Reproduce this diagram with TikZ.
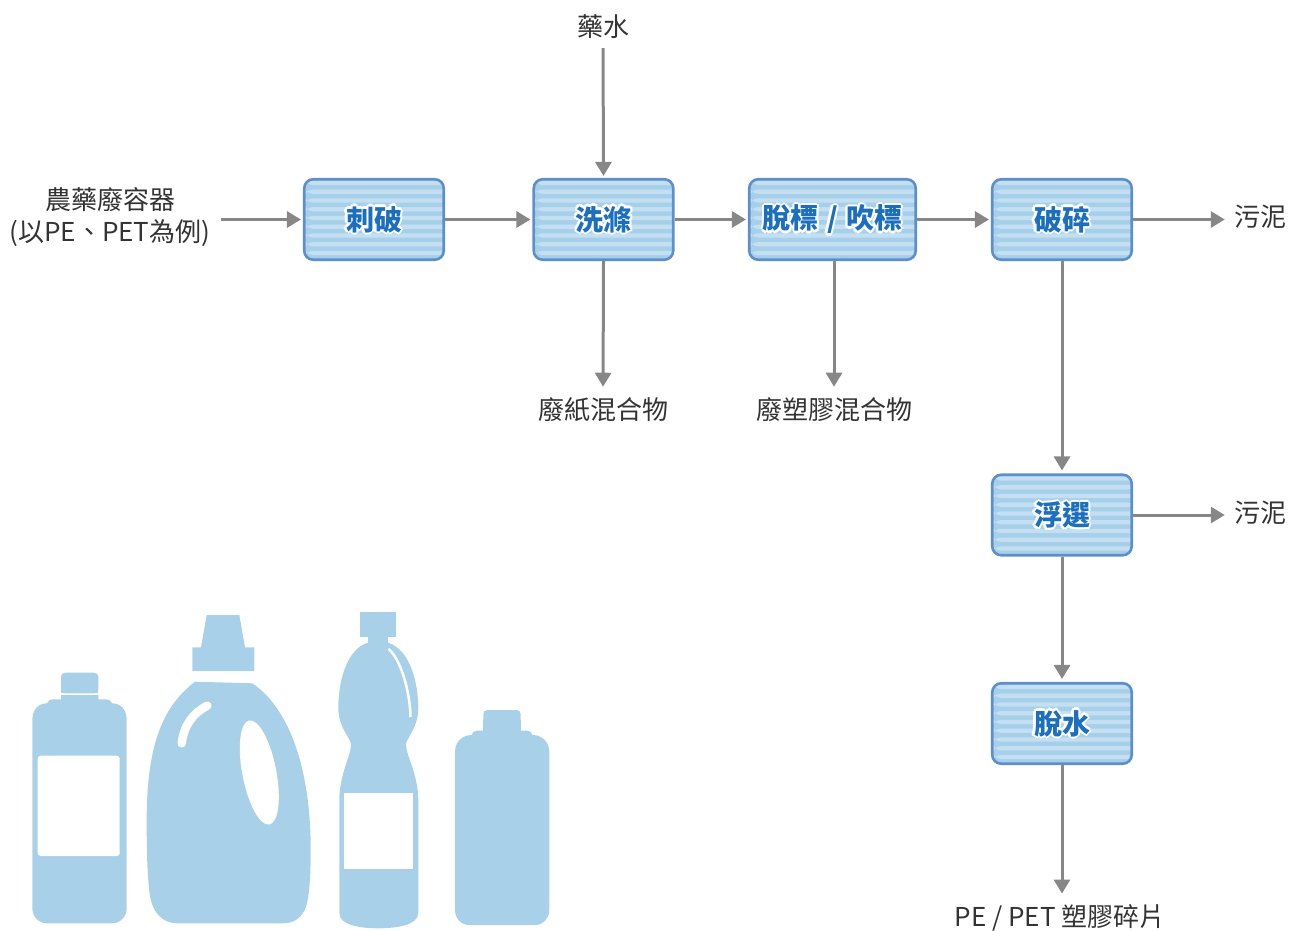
\documentclass[tikz,border=0pt]{standalone}
\usepackage{fontspec}
\setmainfont{Noto Sans CJK TC}
\usetikzlibrary{arrows.meta}

\definecolor{boxborder}{HTML}{5D8FCA}
\definecolor{stripeDark}{HTML}{A6D0EA}
\definecolor{stripeLight}{HTML}{C3DFF1}
\definecolor{stagetext}{HTML}{1C6FBE}
\definecolor{arrowgray}{HTML}{878787}
\definecolor{labelgray}{HTML}{333333}
\definecolor{bottleblue}{HTML}{A8D1E9}

% white halo behind the stage titles
\newcommand\halo[1]{\leavevmode
  \rlap{\kern2.2pt\textcolor{white}{#1}}%
  \rlap{\kern-2.2pt\textcolor{white}{#1}}%
  \rlap{\raisebox{2.2pt}{\textcolor{white}{#1}}}%
  \rlap{\raisebox{-2.2pt}{\textcolor{white}{#1}}}%
  \rlap{\kern1.6pt\raisebox{1.6pt}{\textcolor{white}{#1}}}%
  \rlap{\kern-1.6pt\raisebox{1.6pt}{\textcolor{white}{#1}}}%
  \rlap{\kern1.6pt\raisebox{-1.6pt}{\textcolor{white}{#1}}}%
  \rlap{\kern-1.6pt\raisebox{-1.6pt}{\textcolor{white}{#1}}}%
  #1}

\tikzset{
  stage/.style={draw=boxborder, line width=2.6pt, rounded corners=9pt,
    minimum width=139.5pt, minimum height=80.5pt, inner sep=0pt,
    fill=stripeDark, text=stagetext,
    font=\fontsize{28}{32}\selectfont\bfseries,
    path picture={
      \foreach \k in {0,...,9}
        \fill[stripeLight]
          ([yshift={-(1.5+8.75*\k)*1pt}]path picture bounding box.north west)
          rectangle ++(300pt,-4.3pt);
    }},
  wide/.style={minimum width=166.5pt},
  lbl/.style={text=labelgray, inner sep=0pt, font=\fontsize{26}{32}\selectfont},
  flow/.style={draw=arrowgray, line width=3pt,
    -{Triangle[length=14pt,width=16pt]}},
  bottle/.style={fill=bottleblue},
}

\begin{document}
\begin{tikzpicture}[x=1pt, y=-1pt]
\useasboundingbox (0,0) rectangle (1290,930);

% process stages
\node[stage] (a1) at (374,219.5) {\halo{刺破}};
\node[stage] (a2) at (603.5,219.5) {\halo{洗滌}};
\node[stage, wide] (a3) at (832.5,219.5) {\halo{脫標\kern2pt{} / \kern2pt吹標}};
\node[stage] (a4) at (1062,219.5) {\halo{破碎}};
\node[stage] (a5) at (1062,515) {\halo{浮選}};
\node[stage] (a6) at (1062,723.5) {\halo{脫水}};

% inputs and outputs
\node[lbl, align=center] (src) at (110,217) {農藥廢容器\\(以PE、PET為例)};
\coordinate (srcout) at (221,219.5);
\node[lbl] (chem) at (603,27) {藥水};
\node[lbl] (out1) at (603,410) {廢紙混合物};
\node[lbl] (out2) at (834,410) {廢塑膠混合物};
\node[lbl] (sl1) at (1260,217) {污泥};
\node[lbl] (sl2) at (1260,513) {污泥};
\node[lbl] (prod) at (1060,918) {PE / PET 塑膠碎片};

% connectors
\draw[flow, shorten >=2pt] (srcout) -- (a1.west);
\draw[flow, shorten >=2pt] (a1.east) -- (a2.west);
\draw[flow, shorten >=2pt] (a2.east) -- (a3.west);
\draw[flow, shorten >=2pt] (a3.east) -- (a4.west);
\draw[flow, shorten >=9pt] (a4.east) -- (sl1.west |- a4.east);
\draw[flow, shorten <=9pt, shorten >=2pt] (chem.south) -- (a2.north);
\draw[flow, shorten >=11pt] (a2.south) -- (out1.north);
\draw[flow, shorten >=11pt] (a3.south -| out2.north) -- (out2.north);
\draw[flow, shorten >=3pt] (a4.south) -- (a5.north);
\draw[flow, shorten >=9pt] (a5.east) -- (sl2.west |- a5.east);
\draw[flow, shorten >=3pt] (a5.south) -- (a6.north);
\draw[flow, shorten >=11pt] (a6.south) -- (prod.north -| a6.south);

% bottle 1
\fill[bottle] (32.3,908) -- (32.3,720) .. controls (32.3,710) and (38,703.3) .. (47,703.3)
  .. controls (48,700.5) and (50,699.3) .. (53,699.3) -- (61,699.3) -- (61,695)
  -- (98.3,695) -- (98.3,699.3) -- (106,699.3) .. controls (109,699.3) and (111,700.5) .. (112,703.3)
  .. controls (121,703.3) and (126.7,710) .. (126.7,720) -- (126.7,908)
  .. controls (126.7,917) and (120,923.3) .. (112,923.3) -- (47,923.3)
  .. controls (39,923.3) and (32.3,917) .. (32.3,908) -- cycle;
\fill[bottle, rounded corners=4pt] (61,672.7) rectangle (98.3,693.3);
\fill[bottle] (61,683) rectangle (98.3,693.3);
\fill[white, rounded corners=3pt] (37.7,755.7) rectangle (119.7,856);

% bottle 2
\fill[bottle] (206.7,615) -- (239.3,615) -- (245,647.3) -- (254.3,647.3) -- (254.3,671)
  -- (192.3,671) -- (192.3,647.3) -- (201,647.3) -- cycle;
\fill[bottle] (195,681.7) -- (252.3,683.3)
  .. controls (285,705) and (310.7,760) .. (310.7,850)
  .. controls (310.7,880) and (309,897) .. (306,907)
  .. controls (302,917) and (295,923.3) .. (283,923.3) -- (177,923.3)
  .. controls (163,923.3) and (152,913) .. (149.5,893)
  .. controls (147,870) and (146.7,850) .. (146.7,820)
  .. controls (146.7,740) and (165,705) .. (195,681.7) -- cycle;
\fill[white, shift={(259.3,772.5)}, rotate=11] (0,0) ellipse [x radius=17pt, y radius=53pt];
\draw[white, line width=8.5pt, line cap=round] (181.7,743.3) .. controls (184,725) and (193,713) .. (207.3,705.7);

% bottle 3
\fill[bottle] (360,611.7) rectangle (396,637.3);
\fill[bottle] (367.7,636) rectangle (388.3,643);
\fill[bottle] (367.7,642.7) .. controls (345,650) and (338.3,685) .. (338.3,708)
  .. controls (338.3,728) and (351,738) .. (351,745)
  .. controls (351,755) and (339.3,775) .. (339.3,800) -- (339.3,913)
  .. controls (339.3,925) and (360,928.3) .. (378.3,928.3)
  .. controls (397,928.3) and (418.3,925) .. (418.3,913) -- (418.3,800)
  .. controls (418.3,775) and (406,755) .. (406,745)
  .. controls (406,738) and (418.3,728) .. (418.3,708)
  .. controls (418.3,685) and (411,650) .. (388.3,642.7) -- cycle;
\fill[white] (344,793.3) rectangle (412.7,869.3);
\draw[white, line width=2.5pt] (388.5,649) .. controls (400,658) and (410,690) .. (410.5,717);

% bottle 4
\fill[bottle, rounded corners=4pt] (483.3,710) rectangle (520.7,731);
\fill[bottle] (483.3,720) rectangle (520.7,731);
\fill[bottle] (455,752) .. controls (455,742) and (462,735) .. (471.7,735)
  .. controls (472.5,732) and (474,730.7) .. (477,730.7) -- (527,730.7)
  .. controls (530,730.7) and (531.5,732) .. (532.5,735)
  .. controls (542,735) and (549.3,742) .. (549.3,752) -- (549.3,910)
  .. controls (549.3,918) and (543,925) .. (535,925) -- (469,925)
  .. controls (461,925) and (455,918) .. (455,910) -- cycle;
\end{tikzpicture}
\end{document}
